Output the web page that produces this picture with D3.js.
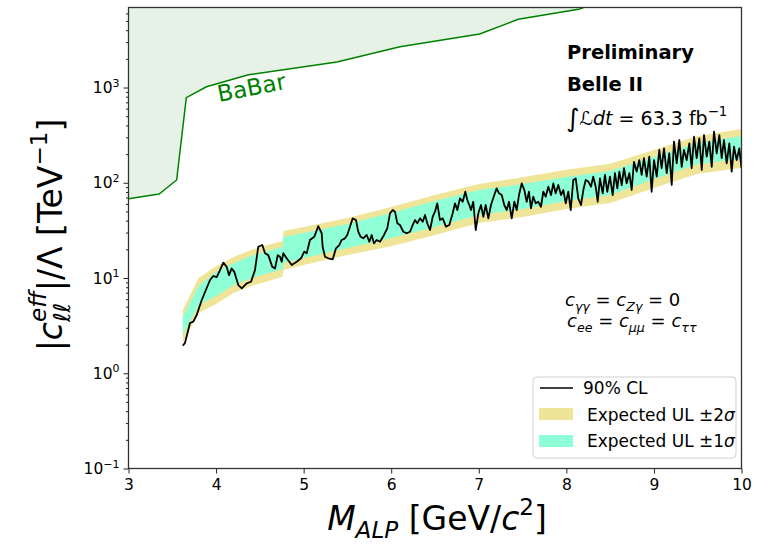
<html>
<head>
<meta charset="utf-8">
<title>ALP limit</title>
<style type="text/css">
  body { margin: 0; background: #fff; }
  text { font-family: "DejaVu Sans", sans-serif; fill: #000; white-space: pre; }
</style>
</head>
<body>
<script src="https://d3js.org/d3.v7.min.js"></script>
<script>

// ---- data ----
var xTicks = [3, 4, 5, 6, 7, 8, 9, 10];
var yTicks = [0.1, 1, 10, 100, 1000];
var yTickExp = ["\u22121", "0", "1", "2", "3"];

// BaBar exclusion boundary
var babarMass  = [3.0, 3.35, 3.55, 3.66, 3.89, 4.37, 5.38, 6.10, 7.01, 7.45, 8.14, 8.25];
var babarLimit = [68, 76, 107, 782, 1018, 1362, 1853, 2680, 3650, 5200, 6620, 7200];

// expected UL bands
var bandMass = [3.62, 3.80, 4.0, 4.2, 4.4, 4.6, 4.76, 4.77, 5.0, 5.5, 6.0, 6.5, 7.0, 7.5, 8.0, 8.5, 9.0, 9.5, 10.0];
var exp2Hi = [4.62, 10.0, 13.3, 16.6, 19.7, 22.3, 24.5, 31.2, 34.3, 42.6, 55.7, 74.3, 97.1, 114, 137, 158, 221, 310, 366];
var exp1Hi = [3.89, 8.24, 11.6, 14.3, 17.0, 19.3, 21.2, 26.9, 29.7, 36.9, 48.1, 64.3, 83.9, 97.0, 115, 133, 186, 261, 309];
var exp1Lo = [2.52, 5.21, 6.47, 8.45, 9.96, 11.3, 12.4, 14.4, 16.2, 20.7, 26.3, 34.4, 45.9, 53.0, 64.4, 74.4, 109, 157, 178];
var exp2Lo = [2.08, 4.29, 5.33, 6.96, 8.24, 9.30, 10.3, 12.1, 13.7, 17.4, 21.6, 28.3, 37.7, 43.6, 53.0, 61.2, 88.1, 124, 143];

// observed 90% CL upper limit
var obsMass = [
  3.62,3.645,3.702,3.74,3.779,3.836,3.893,3.931,3.968,4.007,
  4.045,4.083,4.121,4.148,4.178,4.208,4.254,4.293,4.35,4.399,
  4.444,4.482,4.528,4.559,4.596,4.642,4.673,4.704,4.73,4.749,
  4.768,4.806,4.864,4.921,4.97,5.007,5.035,5.072,5.122,5.167,
  5.206,5.217,5.244,5.281,5.332,5.369,5.407,5.434,5.472,5.498,
  5.529,5.56,5.598,5.624,5.651,5.681,5.72,5.75,5.777,5.803,
  5.834,5.872,5.918,5.955,5.986,6.017,6.043,6.07,6.1,6.138,
  6.177,6.215,6.245,6.272,6.298,6.329,6.36,6.386,6.412,6.443,
  6.474,6.5,6.526,6.557,6.588,6.625,6.663,6.702,6.728,6.755,
  6.785,6.816,6.846,6.869,6.899,6.911,6.937,6.965,6.995,7.025,
  7.052,7.079,7.109,7.139,7.177,7.204,7.231,7.262,7.291,7.319,
  7.345,7.376,7.406,7.433,7.459,7.49,7.52,7.547,7.573,7.596,
  7.622,7.65,7.679,7.71,7.737,7.764,7.794,7.825,7.851,7.878,
  7.908,7.939,7.965,7.993,8.022,8.05,8.079,8.107,8.136,8.167,
  8.194,8.221,8.251,8.281,8.307,8.335,8.358,8.384,8.415,8.441,
  8.467,8.498,8.529,8.555,8.582,8.605,8.632,8.658,8.689,8.719,
  8.746,8.772,8.803,8.833,8.86,8.886,8.917,8.947,8.974,9.001,
  9.032,9.061,9.088,9.115,9.146,9.175,9.203,9.229,9.26,9.29,
  9.317,9.343,9.374,9.404,9.431,9.458,9.488,9.518,9.546,9.572,
  9.603,9.632,9.66,9.686,9.717,9.747,9.774,9.8,9.831,9.861,
  9.888,9.914,9.945,9.975,10.0];
var obsLimit = [
  1.95,2.08,3.37,3.48,4.09,5.87,7.85,9.53,10.5,10.2,
  12.1,14.5,13.1,10.7,12.6,11.6,8.44,7.79,8.80,9.14,
  12.1,21.3,22.2,18.2,17.4,13.1,12.6,17.4,16.7,14.8,
  18.2,16.1,13.7,14.8,16.1,18.9,18.2,25.1,27.1,35.1,
  29.5,21.3,16.7,16.1,15.7,20.5,22.2,25.1,26.1,28.3,
  34.6,42.3,40.6,30.6,27.1,26.1,28.3,24.0,28.3,23.1,
  25.1,24.0,28.3,33.2,47.8,51.7,49.7,37.5,36.0,30.6,
  29.5,30.6,36.0,40.6,37.5,42.3,39.0,45.9,37.5,31.9,
  44.0,49.7,60.8,40.6,42.3,34.6,36.0,47.8,60.8,51.7,
  68.6,63.2,80.5,65.9,56.0,51.7,63.2,31.9,47.8,58.4,
  44.0,58.4,42.3,58.4,74.3,87.4,77.5,74.3,58.4,51.7,
  63.2,42.3,63.2,51.7,74.3,98.6,83.9,63.2,80.5,53.9,
  71.4,60.8,63.2,56.0,80.5,71.4,90.9,74.3,98.6,77.5,
  94.7,74.3,83.9,60.8,80.5,51.7,107,111,68.6,58.4,
  83.9,107,103,90.9,116,90.9,63.2,111,77.5,121,
  80.5,116,74.3,126,87.4,131,94.7,142,98.6,126,
  83.9,166,131,173,121,181,116,188,80.5,173,
  116,221,142,230,126,204,94.7,270,160,281,
  147,221,173,259,142,304,181,293,136,317,
  188,270,147,344,204,317,181,281,160,259,
  131,239,173,230,142];

// ---- layout ----
var margin = {top: 7.5, left: 128.5},
    width = 613, height = 461;

var x = d3.scaleLinear().domain([3, 10]).range([0, width]);
var y = d3.scaleLog().domain([0.1, 6920]).range([height, 0]);

var svg = d3.select("body").append("svg")
    .attr("width", 769).attr("height", 549);

svg.append("defs").append("clipPath").attr("id", "plotclip")
  .append("rect").attr("width", width).attr("height", height);

var g = svg.append("g")
    .attr("transform", "translate(" + margin.left + "," + margin.top + ")");
var plot = g.append("g").attr("clip-path", "url(#plotclip)");

// BaBar region
var babar = babarMass.map(function(m, i) { return {m: m, v: babarLimit[i]}; });
plot.append("path")
    .datum(babar)
    .attr("d", d3.area().x(function(d) { return x(d.m); })
        .y0(function(d) { return y(d.v); }).y1(0))
    .style("fill", "rgba(0,128,0,0.1)");
plot.append("path")
    .datum(babar)
    .attr("d", d3.line().x(function(d) { return x(d.m); }).y(function(d) { return y(d.v); }))
    .style("fill", "none").style("stroke", "#008000").style("stroke-width", 1.5);

// expected bands
var band = bandMass.map(function(m, i) {
  return {m: m, lo2: exp2Lo[i], lo1: exp1Lo[i], hi1: exp1Hi[i], hi2: exp2Hi[i]};
});
plot.append("path").datum(band)
    .attr("d", d3.area().x(function(d) { return x(d.m); })
        .y0(function(d) { return y(d.lo2); }).y1(function(d) { return y(d.hi2); }))
    .style("fill", "#efe599");
plot.append("path").datum(band)
    .attr("d", d3.area().x(function(d) { return x(d.m); })
        .y0(function(d) { return y(d.lo1); }).y1(function(d) { return y(d.hi1); }))
    .style("fill", "#8effd6");

// observed
var obs = obsMass.map(function(m, i) { return {m: m, v: obsLimit[i]}; });
plot.append("path").datum(obs)
    .attr("d", d3.line().x(function(d) { return x(d.m); }).y(function(d) { return y(d.v); }))
    .style("fill", "none").style("stroke", "#000").style("stroke-width", 1.8)
    .style("stroke-linejoin", "round");

// axes
var xAxis = g.append("g").attr("transform", "translate(0," + height + ")")
    .call(d3.axisBottom(x).tickValues(xTicks).tickSize(5).tickPadding(5).tickFormat(d3.format("d")));
xAxis.selectAll("text").style("font-size", "15.5px").style("font-family", "DejaVu Sans");

var minor = [];
[0.1, 1, 10, 100, 1000].forEach(function(dec) {
  for (var k = 2; k <= 9; k++) if (dec * k < 6920) minor.push(dec * k);
});
g.append("g").call(d3.axisLeft(y).tickValues(minor).tickSize(2.5).tickFormat(""));
g.append("g").call(d3.axisLeft(y).tickValues(yTicks).tickSize(5).tickFormat(""));

g.selectAll(".domain").remove();
g.selectAll(".tick line").style("stroke", "#222").style("stroke-width", 1);

yTicks.forEach(function(v, i) {
  var t = g.append("text").attr("x", -9).attr("y", y(v) + 5.5)
      .attr("text-anchor", "end").style("font-size", "15.5px");
  t.append("tspan").text("10");
  t.append("tspan").attr("dy", -6.5).style("font-size", "11px").text(yTickExp[i]);
});

// frame
g.append("rect").attr("width", width).attr("height", height)
    .style("fill", "none").style("stroke", "#333").style("stroke-width", 1.3);

// helper for math-like labels
function mathText(parent, pieces, size) {
  var pos = 0, hold = 0;
  pieces.forEach(function(p) {
    var fs = size * (p.sc || 1);
    var t = parent.append("text").attr("x", pos).attr("y", (p.sh || 0) * size)
        .style("font-size", fs + "px")
        .style("font-style", p.it ? "italic" : "normal")
        .style("font-weight", p.b ? "bold" : "normal")
        .text(p.t);
    var w = t.node().getComputedTextLength();
    if (p.hold) { hold = Math.max(hold, w); }
    else { pos += Math.max(w, hold); hold = 0; }
  });
  return pos;
}

// x label
var xl = svg.append("g");
var xw = mathText(xl, [
  {t: "M", it: true}, {t: "ALP", it: true, sc: 0.7, sh: 0.25},
  {t: " [GeV/"}, {t: "c", it: true}, {t: "2", sc: 0.7, sh: -0.45}, {t: "]"}], 33);
xl.attr("transform", "translate(" + (437 - xw / 2) + ",530)");

// y label
var yl = svg.append("g");
var ylIn = yl.append("g");
var yw = mathText(ylIn, [
  {t: "|"}, {t: "c", it: true},
  {t: "eff", it: true, sc: 0.7, sh: -0.5, hold: true},
  {t: "\u2113\u2113", it: true, sc: 0.7, sh: 0.25},
  {t: "|/\u039b [TeV"}, {t: "\u22121", sc: 0.7, sh: -0.45}, {t: "]"}], 33);
ylIn.attr("transform", "translate(" + (-yw / 2) + ",0)");
yl.attr("transform", "translate(62,235) rotate(-90)");

// BaBar label
svg.append("text").attr("transform", "translate(219,102) rotate(-11)")
    .style("font-size", "23px").style("fill", "#008000").text("BaBar");

// experiment labels
svg.append("text").attr("x", 567).attr("y", 59)
    .style("font-size", "19.5px").style("font-weight", "bold").text("Preliminary");
svg.append("text").attr("x", 567).attr("y", 91)
    .style("font-size", "19.5px").style("font-weight", "bold").text("Belle II");
var lumi = svg.append("g").attr("transform", "translate(566,125)");
mathText(lumi, [
  {t: "\u222b", sc: 1.35, sh: 0.1}, {t: "\u2112", it: true}, {t: "dt", it: true},
  {t: " = 63.3 fb"}, {t: "\u22121", sc: 0.7, sh: -0.45}], 19);

var c1 = svg.append("g").attr("transform", "translate(565,306)");
mathText(c1, [
  {t: "c", it: true}, {t: "\u03b3\u03b3", it: true, sc: 0.7, sh: 0.3},
  {t: " = "}, {t: "c", it: true}, {t: "Z\u03b3", it: true, sc: 0.7, sh: 0.3},
  {t: " = 0"}], 18);
var c2 = svg.append("g").attr("transform", "translate(567,327)");
mathText(c2, [
  {t: "c", it: true}, {t: "ee", it: true, sc: 0.7, sh: 0.3},
  {t: " = "}, {t: "c", it: true}, {t: "\u03bc\u03bc", it: true, sc: 0.7, sh: 0.3},
  {t: " = "}, {t: "c", it: true}, {t: "\u03c4\u03c4", it: true, sc: 0.7, sh: 0.3}], 18);

// legend
var leg = svg.append("g").attr("transform", "translate(533,377)");
leg.append("rect").attr("width", 203).attr("height", 81).attr("rx", 4)
    .style("fill", "rgba(255,255,255,0.85)").style("stroke", "#d0d0d0");
leg.append("line").attr("x1", 7).attr("x2", 40).attr("y1", 11).attr("y2", 11)
    .style("stroke", "#000").style("stroke-width", 1.6);
leg.append("text").attr("x", 50).attr("y", 17).style("font-size", "17px").text("90% CL");
leg.append("rect").attr("x", 6).attr("y", 31).attr("width", 34).attr("height", 12).style("fill", "#efe599");
leg.append("rect").attr("x", 6).attr("y", 58).attr("width", 34).attr("height", 12).style("fill", "#8effd6");
var l2 = leg.append("g").attr("transform", "translate(54,43.5)");
mathText(l2, [{t: "Expected UL \u00b12"}, {t: "\u03c3", it: true}], 17);
var l3 = leg.append("g").attr("transform", "translate(54,70)");
mathText(l3, [{t: "Expected UL \u00b11"}, {t: "\u03c3", it: true}], 17);

</script>
</body>
</html>
